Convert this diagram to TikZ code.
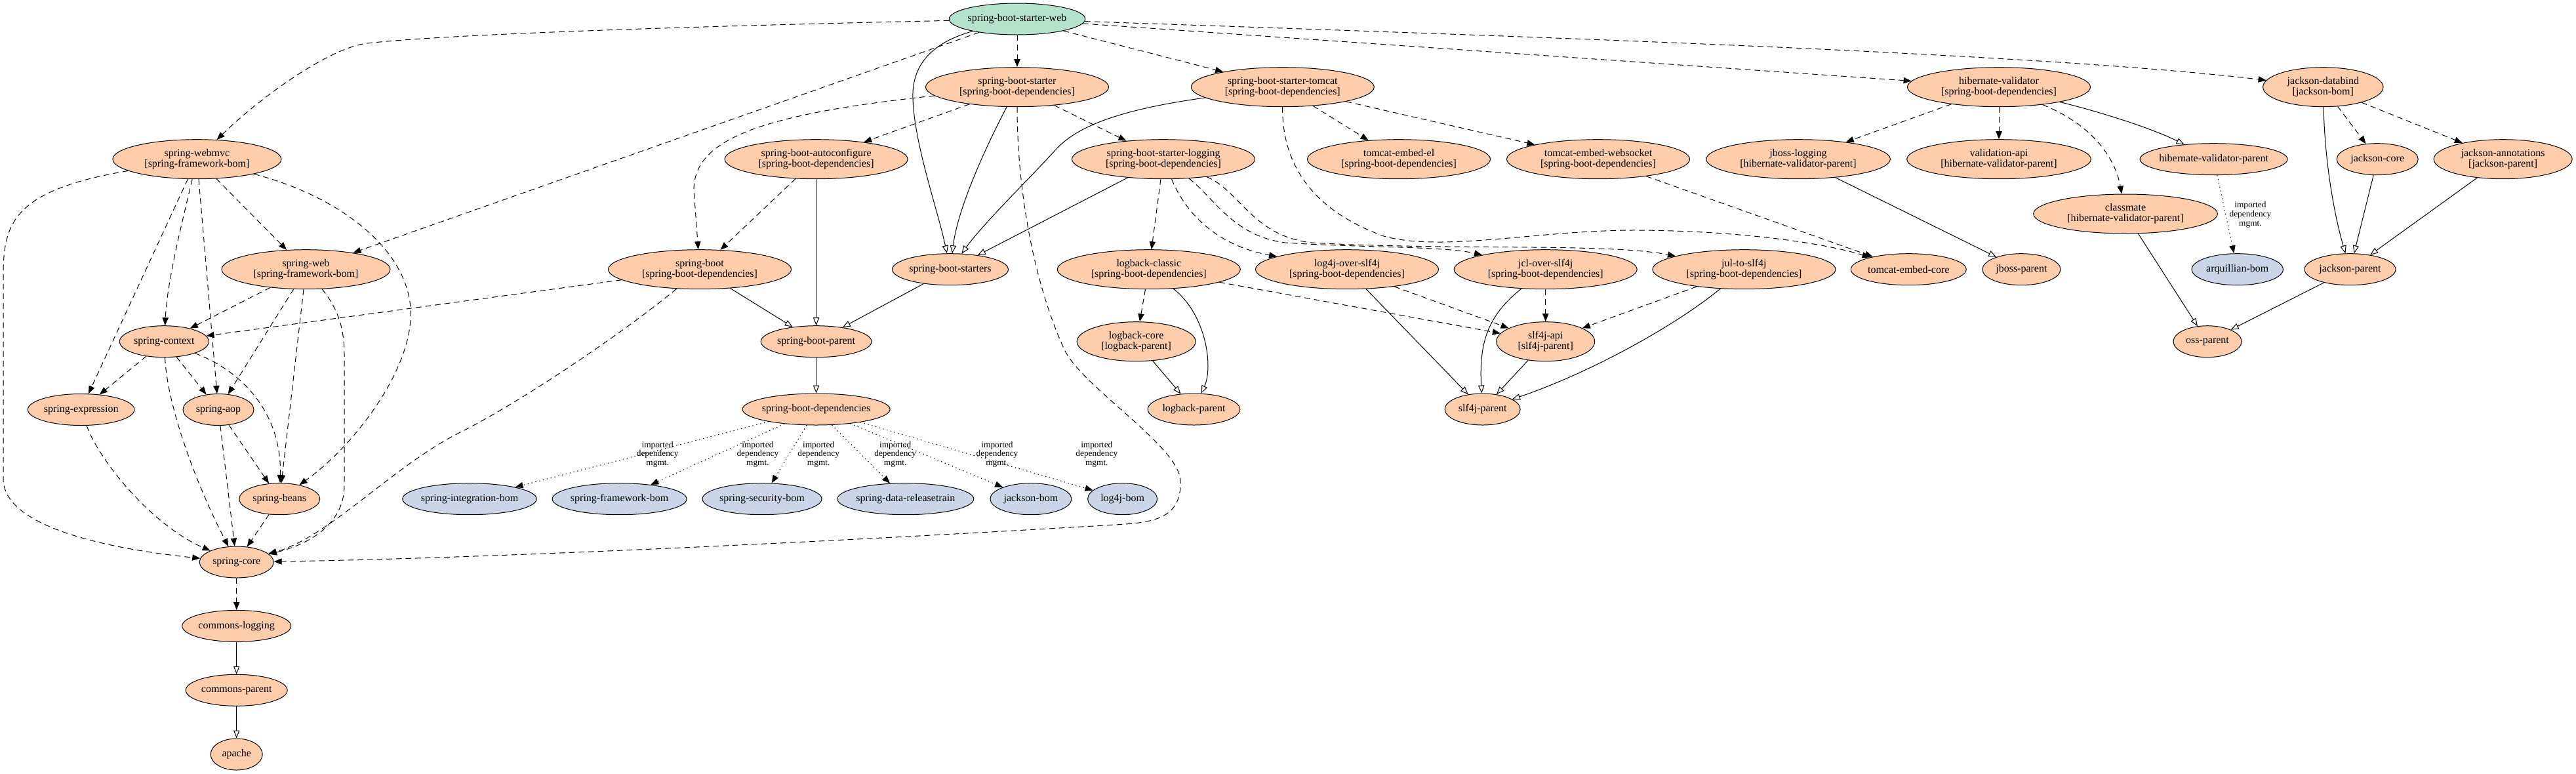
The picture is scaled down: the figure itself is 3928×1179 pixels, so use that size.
\documentclass[tikz,border=0pt]{standalone}
\usepackage{fontspec}
\setmainfont{Liberation Serif}
\usetikzlibrary{shapes.geometric,arrows.meta}
\definecolor{pkgor}{HTML}{FDCDAC}
\definecolor{pkggr}{HTML}{B3E2CD}
\definecolor{pkgbl}{HTML}{CBD5E8}
\tikzset{
  pkg/.style={ellipse, draw=black, line width=0.75pt, fill=pkgor, inner xsep=-6pt, inner ysep=0pt, align=center, font=\fontsize{12pt}{11.8pt}\selectfont},
  dl/.style={minimum height=45pt, minimum width=#1},
  sl/.style={minimum height=36pt, minimum width=#1},
  bom/.style={fill=pkgbl},
  rootpkg/.style={fill=pkggr},
  dep/.style={line width=0.75pt, dash pattern=on 6.5pt off 4.5pt, -{Triangle[length=9pt,width=7pt]}},
  par/.style={line width=0.75pt, -{Triangle[open,length=9pt,width=7pt,fill=white]}},
  imp/.style={line width=0.8pt, dash pattern=on 1pt off 3.5pt, -{Triangle[length=9pt,width=7pt]}},
  lbl/.style={align=center, font=\fontsize{10pt}{10.3pt}\selectfont, inner sep=0pt},
}
\begin{document}
\begin{tikzpicture}[x=0.75pt, y=-0.75pt]
\fill[white] (0,0) rectangle (3928,1179);
\useasboundingbox (0,0) rectangle (3928,1179);
% ---- nodes
\node[pkg, rootpkg, sl=155.7pt] (W) at (1551,29) {spring-boot-starter-web};
\node[pkg, dl=209.25pt] (SBS) at (1551,132.7) {spring-boot-starter\\{[}spring-boot-dependencies{]}};
\node[pkg, dl=209.25pt] (tomcat) at (1955.8,132.7) {spring-boot-starter-tomcat\\{[}spring-boot-dependencies{]}};
\node[pkg, dl=209.25pt] (hibval) at (3048,132.7) {hibernate-validator\\{[}spring-boot-dependencies{]}};
\node[pkg, dl=137.5pt] (jdatabind) at (3542.3,132.7) {jackson-databind\\{[}jackson-bom{]}};
\node[pkg, dl=192.75pt] (webmvc) at (300.4,242.7) {spring-webmvc\\{[}spring-framework-bom{]}};
\node[pkg, dl=209.25pt] (autoconf) at (1244.6,242.7) {spring-boot-autoconfigure\\{[}spring-boot-dependencies{]}};
\node[pkg, dl=209.25pt] (logging) at (1774,242.7) {spring-boot-starter-logging\\{[}spring-boot-dependencies{]}};
\node[pkg, dl=209.25pt] (tembedel) at (2133,242.7) {tomcat-embed-el\\{[}spring-boot-dependencies{]}};
\node[pkg, dl=209.25pt] (tembedws) at (2437,242.7) {tomcat-embed-websocket\\{[}spring-boot-dependencies{]}};
\node[pkg, dl=210.5pt] (jbosslog) at (2742,242.7) {jboss-logging\\{[}hibernate-validator-parent{]}};
\node[pkg, dl=210.5pt] (valapi) at (3048,242.7) {validation-api\\{[}hibernate-validator-parent{]}};
\node[pkg, sl=168.75pt] (hvparent) at (3375.6,242.7) {hibernate-validator-parent};
\node[pkg, sl=93pt] (jcore) at (3625.2,242.7) {jackson-core};
\node[pkg, dl=158.25pt] (jannot) at (3816.6,242.7) {jackson-annotations\\{[}jackson-parent{]}};
\node[pkg, dl=210.5pt] (classmate) at (3241,326) {classmate\\{[}hibernate-validator-parent{]}};
\node[pkg, dl=192.75pt] (springweb) at (466.5,410.7) {spring-web\\{[}spring-framework-bom{]}};
\node[pkg, dl=209.25pt] (springboot) at (1067,410.7) {spring-boot\\{[}spring-boot-dependencies{]}};
\node[pkg, sl=132.75pt] (starters) at (1449,410.7) {spring-boot-starters};
\node[pkg, dl=209.25pt] (logbackclassic) at (1751.8,410.7) {logback-classic\\{[}spring-boot-dependencies{]}};
\node[pkg, dl=209.25pt] (log4j) at (2054,410.7) {log4j-over-slf4j\\{[}spring-boot-dependencies{]}};
\node[pkg, dl=209.25pt] (jcl) at (2356.7,410.7) {jcl-over-slf4j\\{[}spring-boot-dependencies{]}};
\node[pkg, dl=209.25pt] (jul) at (2659.4,410.7) {jul-to-slf4j\\{[}spring-boot-dependencies{]}};
\node[pkg, sl=132pt] (tecore) at (2910.2,410.7) {tomcat-embed-core};
\node[pkg, sl=89.25pt] (jbossparent) at (3082.4,410.7) {jboss-parent};
\node[pkg, bom, sl=104.5pt] (arquillian) at (3411.7,410.7) {arquillian-bom};
\node[pkg, sl=104.25pt] (jparent) at (3583.5,410.7) {jackson-parent};
\node[pkg, sl=102pt] (context) at (250.4,520.7) {spring-context};
\node[pkg, sl=126.6pt] (bootparent) at (1244.6,520.7) {spring-boot-parent};
\node[pkg, dl=135.75pt] (logbackcore) at (1732.6,520.7) {logback-core\\{[}logback-parent{]}};
\node[pkg, dl=112.5pt] (slf4japi) at (2356.7,520.7) {slf4j-api\\{[}slf4j-parent{]}};
\node[pkg, sl=78pt] (ossparent) at (3366,520.7) {oss-parent};
\node[pkg, sl=121.9pt] (expression) at (123.7,624.5) {spring-expression};
\node[pkg, sl=81pt] (aop) at (333,624.5) {spring-aop};
\node[pkg, sl=168.75pt] (bootdeps) at (1244.6,624) {spring-boot-dependencies};
\node[pkg, sl=105.5pt] (logbackparent) at (1820.5,624) {logback-parent};
\node[pkg, sl=86.25pt] (slf4jparent) at (2260.7,624) {slf4j-parent};
\node[pkg, sl=92.25pt] (beans) at (426.3,760.7) {spring-beans};
\node[pkg, bom, sl=153.4pt] (intbom) at (716,760.7) {spring-integration-bom};
\node[pkg, bom, sl=153.75pt] (fwbom) at (944.6,760.7) {spring-framework-bom};
\node[pkg, bom, sl=136.5pt] (secbom) at (1162,760.7) {spring-security-bom};
\node[pkg, bom, sl=156pt] (databom) at (1380.8,760.7) {spring-data-releasetrain};
\node[pkg, bom, sl=93pt] (jacksonbom) at (1571.9,760.7) {jackson-bom};
\node[pkg, bom, sl=79.5pt] (log4jbom) at (1711.6,760.7) {log4j-bom};
\node[pkg, sl=84.75pt] (core) at (360.7,857) {spring-core};
\node[pkg, sl=124.5pt] (commonslogging) at (360.7,954.4) {commons-logging};
\node[pkg, sl=116.25pt] (commonsparent) at (360.7,1052.3) {commons-parent};
\node[pkg, sl=59.25pt] (apache) at (360.7,1150) {apache};
% ---- edge labels
\node[lbl] (l1) at (1002.7,692.7) {imported\\dependency\\mgmt.};
\node[lbl] (l2) at (1155.4,692.7) {imported\\dependency\\mgmt.};
\node[lbl] (l3) at (1248.2,692.7) {imported\\dependency\\mgmt.};
\node[lbl] (l4) at (1365.2,692.7) {imported\\dependency\\mgmt.};
\node[lbl] (l5) at (1520.5,692.7) {imported\\dependency\\mgmt.};
\node[lbl] (l6) at (1672.3,692.7) {imported\\dependency\\mgmt.};
\node[lbl] (l7) at (3431.4,327.2) {imported\\dependency\\mgmt.};
% ---- edges from spring-boot-starter-web
\draw[dep] (W) .. controls (1150,38) and (700,50) .. (560,66) .. controls (500,73) and (393,152) .. (webmvc);
\draw[dep] (W) -- (SBS);
\draw[dep] (W) -- (tomcat);
\draw[dep] (W) -- (hibval);
\draw[dep] (W) .. controls (2300,55) and (3100,80) .. (jdatabind);
\draw[dep] (W) -- (springweb);
\draw[par] (W) .. controls (1420,65) and (1390,100) .. (1392,150) .. controls (1394,220) and (1430,320) .. (starters);
% spring-boot-starter
\draw[dep] (SBS) -- (autoconf);
\draw[dep] (SBS) .. controls (1150,175) and (1058,215) .. (1058,290) -- (springboot);
\draw[par] (SBS) .. controls (1500,230) and (1460,320) .. (starters);
\draw[dep] (SBS) -- (logging);
\draw[dep] (SBS) .. controls (1551,300) and (1580,440) .. (1623,533) .. controls (1650,590) and (1798,680) .. (1800,733) .. controls (1802,790) and (1760,797) .. (1700,800) .. controls (1200,830) and (700,852) .. (core);
% spring-boot-starter-tomcat
\draw[par] (tomcat) .. controls (1700,168) and (1640,195) .. (1610,228) .. controls (1570,272) and (1500,340) .. (starters);
\draw[dep] (tomcat) -- (tembedel);
\draw[dep] (tomcat) -- (tembedws);
\draw[dep] (tomcat) .. controls (1955,250) and (2000,320) .. (2110,360) .. controls (2200,385) and (2350,350) .. (2500,351) .. controls (2650,352) and (2780,370) .. (tecore);
% spring-boot-starter-logging
\draw[par] (logging) -- (starters);
\draw[dep] (logging) -- (logbackclassic);
\draw[dep] (logging) .. controls (1810,330) and (1860,375) .. (log4j);
\draw[dep] (logging) .. controls (1850,300) and (1880,360) .. (1960,370) .. controls (2080,378) and (2200,375) .. (jcl);
\draw[dep] (logging) .. controls (1890,290) and (1910,360) .. (2000,370) .. controls (2200,382) and (2450,370) .. (jul);
% logback
\draw[dep] (logbackclassic) -- (logbackcore);
\draw[par] (logbackclassic) .. controls (1840,480) and (1850,560) .. (logbackparent);
\draw[dep] (logbackclassic) -- (slf4japi);
\draw[par] (logbackcore) -- (logbackparent);
% slf4j bridges
\draw[dep] (log4j) -- (slf4japi);
\draw[par] (log4j) -- (slf4jparent);
\draw[dep] (jcl) -- (slf4japi);
\draw[par] (jcl) .. controls (2270,480) and (2255,520) .. (slf4jparent);
\draw[dep] (jul) -- (slf4japi);
\draw[par] (jul) .. controls (2550,500) and (2420,570) .. (slf4jparent);
\draw[par] (slf4japi) -- (slf4jparent);
\draw[dep] (tembedws) -- (tecore);
% hibernate
\draw[dep] (hibval) -- (jbosslog);
\draw[dep] (hibval) -- (valapi);
\draw[dep] (hibval) .. controls (3190,190) and (3225,240) .. (classmate);
\draw[par] (hibval) .. controls (3200,170) and (3280,195) .. (hvparent);
\draw[par] (jbosslog) -- (jbossparent);
\draw[imp] (hvparent) -- (arquillian);
\draw[par] (classmate) -- (ossparent);
% jackson
\draw[par] (jdatabind) .. controls (3545,250) and (3560,330) .. (jparent);
\draw[dep] (jdatabind) -- (jcore);
\draw[dep] (jdatabind) -- (jannot);
\draw[par] (jcore) -- (jparent);
\draw[par] (jannot) -- (jparent);
\draw[par] (jparent) -- (ossparent);
% spring-webmvc
\draw[dep] (webmvc) .. controls (20,290) and (5,340) .. (5,420) -- (5,730) .. controls (5,800) and (150,835) .. (core);
\draw[dep] (webmvc) -- (expression);
\draw[dep] (webmvc) .. controls (275,350) and (255,430) .. (context);
\draw[dep] (webmvc) -- (aop);
\draw[dep] (webmvc) -- (springweb);
\draw[dep] (webmvc) .. controls (520,300) and (620,380) .. (626,470) .. controls (632,560) and (540,680) .. (beans);
% spring-web
\draw[dep] (springweb) -- (context);
\draw[dep] (springweb) -- (aop);
\draw[dep] (springweb) -- (beans);
\draw[dep] (springweb) .. controls (515,470) and (525,500) .. (525,540) -- (525,740) .. controls (525,800) and (470,830) .. (core);
% spring-context and below
\draw[dep] (context) -- (expression);
\draw[dep] (context) -- (aop);
\draw[dep] (context) .. controls (255,620) and (300,740) .. (core);
\draw[dep] (context) .. controls (380,570) and (430,640) .. (beans);
\draw[dep] (expression) .. controls (150,700) and (230,800) .. (core);
\draw[dep] (aop) -- (beans);
\draw[dep] (aop) -- (core);
\draw[dep] (beans) -- (core);
% spring-boot
\draw[dep] (springboot) -- (context);
\draw[dep] (springboot) .. controls (960,500) and (800,610) .. (700,660) .. controls (600,710) and (500,820) .. (core);
\draw[par] (springboot) -- (bootparent);
\draw[dep] (autoconf) -- (springboot);
\draw[par] (autoconf) -- (bootparent);
\draw[par] (starters) -- (bootparent);
\draw[par] (bootparent) -- (bootdeps);
% imported boms
\draw[imp] (bootdeps) -- (intbom);
\draw[imp] (bootdeps) -- (fwbom);
\draw[imp] (bootdeps) -- (secbom);
\draw[imp] (bootdeps) -- (databom);
\draw[imp] (bootdeps) -- (jacksonbom);
\draw[imp] (bootdeps) -- (log4jbom);
% commons
\draw[dep] (core) -- (commonslogging);
\draw[par] (commonslogging) -- (commonsparent);
\draw[par] (commonsparent) -- (apache);
\end{tikzpicture}
\end{document}
